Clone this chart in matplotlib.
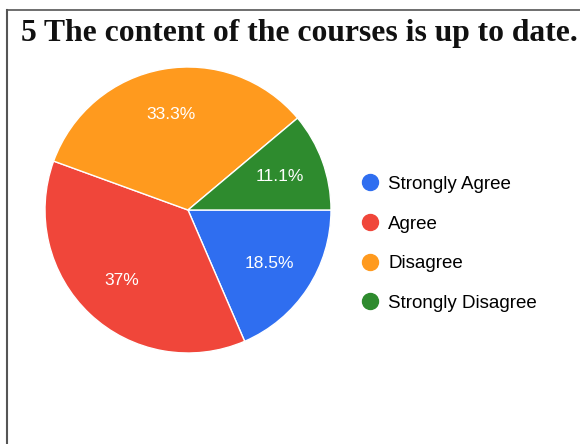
import matplotlib
matplotlib.use("Agg")
import matplotlib.pyplot as plt
from matplotlib.lines import Line2D
import numpy as np

TITLE = "5 The content of the courses is up to date."
CATEGORIES = ["Strongly Agree", "Agree", "Disagree", "Strongly Disagree"]
PERCENTS = [18.5, 37.0, 33.3, 11.1]
PCT_LABELS = ["18.5%", "37%", "33.3%", "11.1%"]
COLORS = ["#2f6ef0", "#f0463a", "#ff9a1e", "#2e8b2e"]

W, H = 580, 444
fig = plt.figure(figsize=(W / 100, H / 100), dpi=100)

# frame around the chart (left and top edges visible in the scan)
fig.add_artist(Line2D([7 / W, 7 / W], [0, 1 - 10 / H], color="#555555", lw=1.5))
fig.add_artist(Line2D([7 / W, 1], [1 - 10 / H, 1 - 10 / H], color="#555555", lw=1.2))

fig.text(21 / W, 1 - 33 / H, TITLE, family="Liberation Serif", weight="bold",
         fontsize=22.8, va="center", ha="left", color="#111111")

cx, cy, r = 188, 210, 143
ax = fig.add_axes([(cx - r) / W, (H - cy - r) / H, 2 * r / W, 2 * r / H])
wedges, _ = ax.pie(PERCENTS, colors=COLORS, startangle=0, counterclock=False,
                   radius=1, wedgeprops=dict(edgecolor="white", linewidth=1))
for w, lab in zip(wedges, PCT_LABELS):
    ang = np.deg2rad((w.theta1 + w.theta2) / 2)
    ax.text(0.68 * np.cos(ang), 0.68 * np.sin(ang), lab, ha="center", va="center",
            color="white", fontsize=12.5, family="Liberation Sans")
ax.set_xlim(-1, 1)
ax.set_ylim(-1, 1)
ax.set_aspect("equal")
ax.axis("off")

handles = [Line2D([], [], marker="o", ls="none", markersize=11.5,
                  markerfacecolor=c, markeredgecolor=c) for c in COLORS]
fig.legend(handles, CATEGORIES, loc="upper left",
           bbox_to_anchor=(344 / W, 1 - 159 / H), frameon=False,
           prop=dict(family="Liberation Sans", size=13.5),
           labelspacing=1.2, handlelength=1.0, handletextpad=0.45)

fig.savefig("out.png", dpi=100)
